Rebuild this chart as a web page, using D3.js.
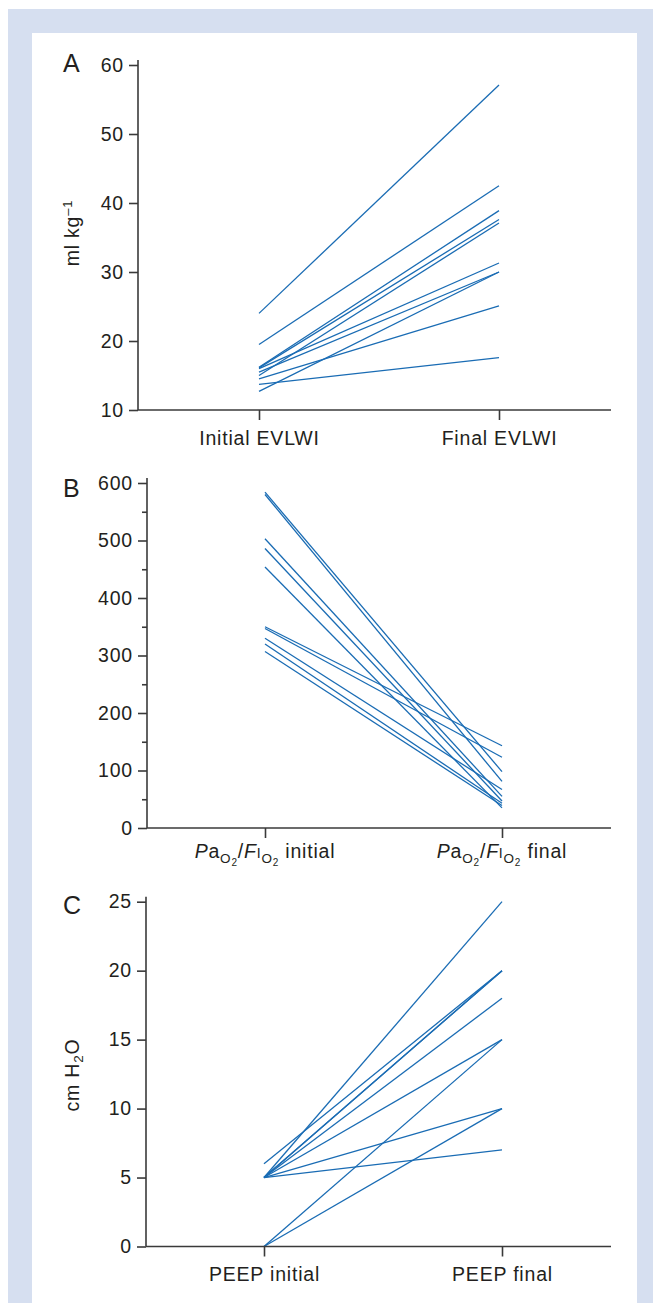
<!DOCTYPE html>
<html>
<head>
<meta charset="utf-8">
<script src="https://d3js.org/d3.v7.min.js"></script>
<style>
	body{margin:0;background:#fff}
	svg text{font-family:"Liberation Sans",Arial,sans-serif;fill:#231f20}
	.lbl{letter-spacing:0.8px}
	.axis line{stroke:#3a3a3a;stroke-width:1.6}
	.axisline{stroke:#3a3a3a;stroke-width:1.6}
	.link{fill:none;stroke:#1a6cb4;stroke-width:1.3}
</style>
</head>
<body>
<script>
// panel A - extravascular lung water index
const evlwiCats = ['Initial EVLWI', 'Final EVLWI']
const evlwiInitial = [24.0, 19.5, 16.2, 16.1, 16.0, 15.5, 15.0, 14.5, 13.7, 12.7]
const evlwiFinal   = [57.1, 42.5, 38.9, 37.6, 31.3, 30.0, 37.1, 25.1, 17.6, 30.0]
const evlwiTicks = [10, 20, 30, 40, 50, 60]

// panel B - PaO2/FiO2
const pfCats = ['initial', 'final']
const pfInitial = [584, 580, 503, 486, 454, 350, 347, 330, 320, 307]
const pfFinal   = [98, 81, 55, 47, 35, 143, 123, 67, 43, 39]
const pfTicks = [0, 100, 200, 300, 400, 500, 600]
const pfMinor = [50, 150, 250, 350, 450, 550]

// panel C - PEEP
const peepCats = ['PEEP initial', 'PEEP final']
const peepInitial = [5, 6, 5, 5, 5, 5, 5, 5, 0, 0]
const peepFinal   = [25, 20, 20, 20, 18, 15, 10, 7, 15, 10]
const peepTicks = [0, 5, 10, 15, 20, 25]

const W = 653, H = 1303
const svg = d3.select('body').append('svg')
	.attr('width', W)
	.attr('height', H)

// frame
svg.append('rect').attr('x', 8).attr('y', 9).attr('width', W - 8).attr('height', H - 9).style('fill', '#d6dff0')
svg.append('rect').attr('x', 32).attr('y', 33).attr('width', 605).attr('height', H - 33).style('fill', '#fff')

function drawPanel(o) {
	const x = d3.scalePoint().domain(o.cats).range(o.xRange)
	const y = d3.scaleLinear().domain(o.yDomain).range(o.yRange)
	const g = svg.append('g')

	g.selectAll('line.link')
		.data(d3.zip(o.start, o.end))
		.join('line')
		.attr('class', 'link')
		.attr('x1', x(o.cats[0]))
		.attr('x2', x(o.cats[1]))
		.attr('y1', d => y(d[0]))
		.attr('y2', d => y(d[1]))

	const ya = g.append('g').attr('class', 'axis')
		.attr('transform', 'translate(' + o.axisX + ',0)')
		.call(d3.axisLeft(y).tickValues(o.ticks).tickSize(9).tickPadding(5).tickSizeOuter(0))
	ya.select('.domain').remove()
	ya.selectAll('text').attr('class', 'lbl').style('font-size', '19.5px')

	if (o.minor) {
		const ym = g.append('g').attr('class', 'axis')
			.attr('transform', 'translate(' + o.axisX + ',0)')
			.call(d3.axisLeft(y).tickValues(o.minor).tickSize(5).tickFormat(''))
		ym.select('.domain').remove()
	}

	g.append('line').attr('class', 'axisline')
		.attr('x1', o.axisX).attr('x2', o.axisX)
		.attr('y1', o.yRange[1] - 5).attr('y2', o.yRange[0])

	const xa = g.append('g').attr('class', 'axis')
		.attr('transform', 'translate(0,' + o.yRange[0] + ')')
		.call(d3.axisBottom(x).tickSize(10).tickPadding(11).tickFormat(o.rich ? '' : d => d))
	xa.select('.domain').remove()
	xa.selectAll('text').attr('class', 'lbl').style('font-size', '19.5px')

	g.append('line').attr('class', 'axisline')
		.attr('x1', o.axisX).attr('x2', 611)
		.attr('y1', o.yRange[0]).attr('y2', o.yRange[0])

	g.append('text')
		.attr('x', 63).attr('y', o.letterY)
		.style('font-size', '25px')
		.text(o.letter)

	return {x: x, y: y, g: g}
}

// A
const pA = drawPanel({
	letter: 'A', letterY: 72, axisX: 138, xRange: [259, 499],
	yDomain: [10, 60], yRange: [410, 65], ticks: evlwiTicks,
	cats: evlwiCats, start: evlwiInitial, end: evlwiFinal
})
const tA = pA.g.append('text')
	.attr('class', 'lbl')
	.attr('transform', 'translate(79,233) rotate(-90)')
	.attr('text-anchor', 'middle')
	.style('font-size', '19.5px')
tA.append('tspan').text('ml kg')
tA.append('tspan').attr('dy', -7).style('font-size', '13px').text('\u20131')

// B
const pB = drawPanel({
	letter: 'B', letterY: 497, axisX: 147, xRange: [265, 502],
	yDomain: [0, 600], yRange: [828, 483], ticks: pfTicks, minor: pfMinor,
	cats: pfCats, start: pfInitial, end: pfFinal, rich: true
})
pfCats.forEach(function(c) {
	const t = pB.g.append('text')
		.attr('class', 'lbl')
		.attr('x', pB.x(c)).attr('y', 858)
		.attr('text-anchor', 'middle')
		.style('font-size', '19.5px')
	t.append('tspan').style('font-style', 'italic').text('P')
	t.append('tspan').text('a')
	t.append('tspan').attr('dy', 5).style('font-size', '13.5px').text('O')
	t.append('tspan').attr('dy', 3).style('font-size', '10px').text('2')
	t.append('tspan').attr('dy', -8).text('/')
	t.append('tspan').style('font-style', 'italic').text('F')
	t.append('tspan').style('font-size', '14px').text('I')
	t.append('tspan').attr('dy', 5).style('font-size', '13.5px').text('O')
	t.append('tspan').attr('dy', 3).style('font-size', '10px').text('2')
	t.append('tspan').attr('dy', -8).text(' ' + c)
})

// C
const pC = drawPanel({
	letter: 'C', letterY: 914, axisX: 146, xRange: [264, 502],
	yDomain: [0, 25], yRange: [1246.5, 901.7], ticks: peepTicks,
	cats: peepCats, start: peepInitial, end: peepFinal
})
const tC = pC.g.append('text')
	.attr('class', 'lbl')
	.attr('transform', 'translate(79,1075) rotate(-90)')
	.attr('text-anchor', 'middle')
	.style('font-size', '19.5px')
tC.append('tspan').text('cm H')
tC.append('tspan').attr('dy', 4).style('font-size', '13.5px').text('2')
tC.append('tspan').attr('dy', -4).text('O')
</script>
</body>
</html>
